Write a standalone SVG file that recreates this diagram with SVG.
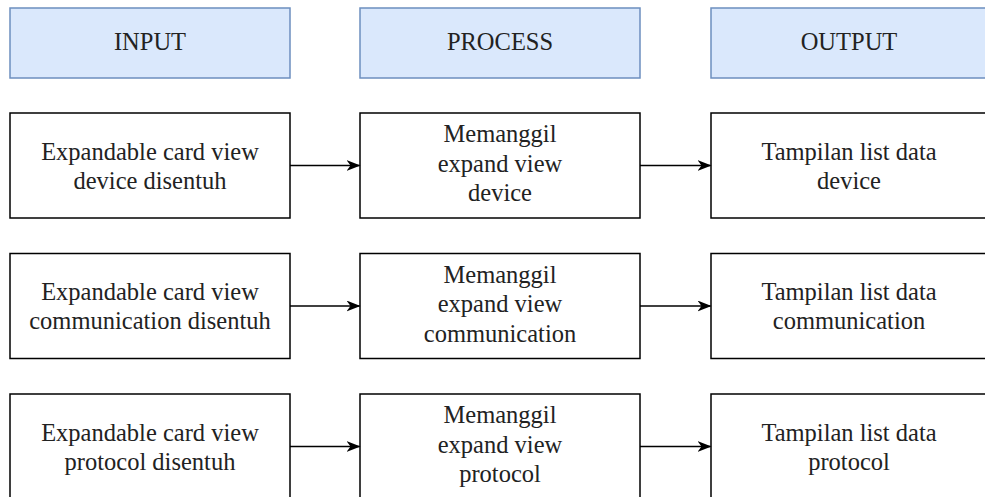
<svg xmlns="http://www.w3.org/2000/svg" width="985" height="497" viewBox="0 0 985 497">
  <defs>
    <marker id="arrow" viewBox="0 0 14 11" refX="13" refY="5.5" markerWidth="14" markerHeight="11" markerUnits="userSpaceOnUse" orient="auto">
      <path d="M0,0 L14,5.5 L0,11 L4,5.5 Z" fill="#000"/>
    </marker>
    <style>
      .hdr { fill: #dae8fc; stroke: #6c8ebf; stroke-width: 1.5; }
      .box { fill: #ffffff; stroke: #000000; stroke-width: 1.5; }
      text { font-family: "Liberation Serif", "Times New Roman", serif; font-size: 24.5px; fill: #222; text-anchor: middle; }
      .edge { stroke: #000; stroke-width: 1.5; fill: none; marker-end: url(#arrow); }
    </style>
  </defs>
  <rect width="985" height="497" fill="#ffffff"/>

  <!-- column headers -->
  <g id="hdr-input">
    <rect class="hdr" x="10" y="8" width="280" height="70"/>
    <text x="150" y="49.5">INPUT</text>
  </g>
  <g id="hdr-process">
    <rect class="hdr" x="360" y="8" width="280" height="70"/>
    <text x="500" y="49.5">PROCESS</text>
  </g>
  <g id="hdr-output">
    <rect class="hdr" x="711" y="8" width="290" height="70"/>
    <text x="849" y="49.5">OUTPUT</text>
  </g>

  <!-- row 1: device -->
  <g id="in-device">
    <rect class="box" x="10" y="113" width="280" height="105"/>
    <text x="150" y="159.5">Expandable card view</text>
    <text x="150" y="188.5">device disentuh</text>
  </g>
  <g id="proc-device">
    <rect class="box" x="360" y="113" width="280" height="105"/>
    <text x="500" y="142">Memanggil</text>
    <text x="500" y="171.5">expand view</text>
    <text x="500" y="201">device</text>
  </g>
  <g id="out-device">
    <rect class="box" x="711" y="113" width="290" height="105"/>
    <text x="849" y="159.5">Tampilan list data</text>
    <text x="849" y="188.5">device</text>
  </g>

  <!-- row 2: communication -->
  <g id="in-comm">
    <rect class="box" x="10" y="253.5" width="280" height="105"/>
    <text x="150" y="300">Expandable card view</text>
    <text x="150" y="329">communication disentuh</text>
  </g>
  <g id="proc-comm">
    <rect class="box" x="360" y="253.5" width="280" height="105"/>
    <text x="500" y="282.5">Memanggil</text>
    <text x="500" y="312">expand view</text>
    <text x="500" y="341.5">communication</text>
  </g>
  <g id="out-comm">
    <rect class="box" x="711" y="253.5" width="290" height="105"/>
    <text x="849" y="300">Tampilan list data</text>
    <text x="849" y="329">communication</text>
  </g>

  <!-- row 3: protocol -->
  <g id="in-proto">
    <rect class="box" x="10" y="394" width="280" height="105"/>
    <text x="150" y="440.5">Expandable card view</text>
    <text x="150" y="469.5">protocol disentuh</text>
  </g>
  <g id="proc-proto">
    <rect class="box" x="360" y="394" width="280" height="105"/>
    <text x="500" y="423">Memanggil</text>
    <text x="500" y="452.5">expand view</text>
    <text x="500" y="482">protocol</text>
  </g>
  <g id="out-proto">
    <rect class="box" x="711" y="394" width="290" height="105"/>
    <text x="849" y="440.5">Tampilan list data</text>
    <text x="849" y="469.5">protocol</text>
  </g>

  <!-- connectors -->
  <g id="connectors">
    <line class="edge" x1="290" y1="165.5" x2="359.5" y2="165.5"/>
    <line class="edge" x1="640" y1="165.5" x2="710.5" y2="165.5"/>
    <line class="edge" x1="290" y1="306" x2="359.5" y2="306"/>
    <line class="edge" x1="640" y1="306" x2="710.5" y2="306"/>
    <line class="edge" x1="290" y1="446.5" x2="359.5" y2="446.5"/>
    <line class="edge" x1="640" y1="446.5" x2="710.5" y2="446.5"/>
  </g>
</svg>
